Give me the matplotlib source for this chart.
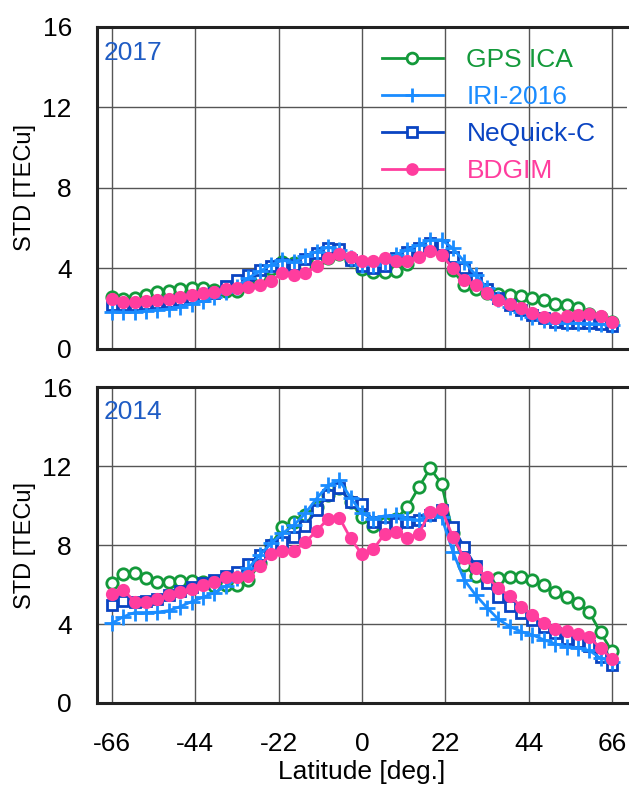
import numpy as np
import matplotlib
matplotlib.use("Agg")
import matplotlib.pyplot as plt

plt.rcParams['font.family'] = ['Liberation Sans', 'DejaVu Sans']
plt.rcParams['axes.unicode_minus'] = False

lat = np.arange(-66, 67, 3)

# 2017
gps_2017 = [2.6, 2.5, 2.55, 2.7, 2.85, 2.9, 3.0, 3.05, 3.05, 2.95, 2.9, 2.9,
            3.2, 3.6, 3.95, 4.3, 4.25, 4.1, 4.3, 4.5, 4.7, 4.4, 3.95, 3.8,
            3.8, 3.88, 4.2, 4.8, 5.1, 4.95, 3.9, 3.18, 2.98, 2.79, 2.74, 2.69,
            2.64, 2.54, 2.44, 2.24, 2.19, 2.05, 1.74, 1.61, 1.36]
iri_2017 = [1.86, 1.83, 1.83, 1.89, 1.94, 1.99, 2.1, 2.24, 2.39, 2.6, 2.85, 3.1,
            3.53, 3.85, 4.18, 4.4, 4.3, 4.6, 4.84, 5.05, 4.93, 4.5, 4.18, 4.18,
            4.34, 4.68, 4.93, 5.17, 5.42, 5.42, 5.0, 4.34, 3.68, 3.03, 2.49, 2.1,
            1.86, 1.61, 1.44, 1.31, 1.28, 1.28, 1.26, 1.24, 1.19]
neq_2017 = [2.19, 2.19, 2.19, 2.24, 2.3, 2.35, 2.44, 2.54, 2.65, 2.79, 3.15, 3.43,
            3.68, 3.93, 4.12, 4.22, 4.18, 4.48, 4.78, 5.0, 4.96, 4.43, 4.1, 4.0,
            4.1, 4.5, 4.84, 5.0, 5.25, 5.15, 4.59, 4.0, 3.5, 2.98, 2.54, 2.19,
            1.94, 1.69, 1.53, 1.36, 1.31, 1.31, 1.28, 1.24, 1.14]
bdg_2017 = [2.49, 2.32, 2.32, 2.39, 2.42, 2.49, 2.59, 2.69, 2.79, 2.85, 2.98, 3.05,
            3.1, 3.18, 3.4, 3.75, 3.68, 3.78, 4.1, 4.5, 4.7, 4.57, 4.38, 4.38,
            4.54, 4.38, 4.38, 4.59, 4.88, 4.69, 4.0, 3.43, 3.18, 2.79, 2.44, 2.24,
            2.04, 1.79, 1.61, 1.53, 1.66, 1.69, 1.72, 1.66, 1.36]

# 2014
gps_2014 = [6.09, 6.52, 6.58, 6.31, 6.11, 6.14, 6.16, 6.16, 6.11, 5.92, 5.95, 5.97,
            6.23, 7.07, 8.0, 8.92, 9.19, 9.5, 9.95, 10.52, 10.9, 10.18, 9.4, 8.95,
            9.12, 9.3, 9.93, 10.92, 11.88, 11.11, 8.6, 6.98, 6.43, 6.23, 6.31, 6.39,
            6.36, 6.23, 5.97, 5.64, 5.38, 5.05, 4.6, 3.57, 2.61]
iri_2014 = [4.04, 4.37, 4.58, 4.58, 4.6, 4.68, 4.88, 5.13, 5.35, 5.58, 5.92, 6.31,
            6.82, 7.49, 8.08, 8.59, 9.0, 9.6, 10.35, 11.02, 11.28, 10.4, 9.6, 9.34,
            9.48, 9.51, 9.34, 9.26, 9.56, 9.42, 7.66, 6.23, 5.47, 4.83, 4.24, 3.87,
            3.62, 3.45, 3.2, 3.0, 2.86, 2.78, 2.66, 2.27, 2.1]
neq_2014 = [4.95, 5.17, 5.11, 5.17, 5.27, 5.45, 5.65, 5.86, 6.07, 6.23, 6.42, 6.65,
            7.02, 7.49, 8.0, 8.13, 8.41, 8.95, 9.76, 10.55, 10.9, 10.18, 10.06, 9.17,
            8.9, 9.1, 9.17, 9.26, 9.5, 9.76, 8.92, 7.88, 6.93, 6.09, 5.38, 4.91,
            4.54, 4.2, 3.84, 3.53, 3.23, 3.11, 2.89, 2.32, 1.94]
bdg_2014 = [5.5, 5.72, 5.13, 5.13, 5.27, 5.45, 5.6, 5.77, 5.96, 6.11, 6.36, 6.39,
            6.45, 6.95, 7.57, 7.71, 7.71, 8.13, 8.72, 9.31, 9.39, 8.33, 7.53, 7.78,
            8.58, 8.67, 8.36, 8.58, 9.68, 9.81, 8.41, 7.32, 6.82, 6.39, 5.81, 5.42,
            4.88, 4.46, 4.07, 3.75, 3.65, 3.5, 3.33, 2.78, 2.24]

names = ['GPS ICA', 'IRI-2016', 'NeQuick-C', 'BDGIM']
colors = ['#13993a', '#1a8cff', '#0a44c2', '#ff3d9e']
styles = [dict(marker='o', mfc='white', zorder=3),
          dict(marker='+', mfc='none', zorder=5, ms=11),
          dict(marker='s', mfc='white', zorder=4, ms=7.5),
          dict(marker='o', mfc=colors[3], zorder=6, ms=7.5)]

fig = plt.figure(figsize=(6.29, 7.86), dpi=100)
ax_top = fig.add_axes([0.154, 0.556, 0.843, 0.41])
ax_bot = fig.add_axes([0.154, 0.1056, 0.843, 0.402])

panels = [(ax_top, '2017', [gps_2017, iri_2017, neq_2017, bdg_2017]),
          (ax_bot, '2014', [gps_2014, iri_2014, neq_2014, bdg_2014])]

for ax, year, series in panels:
    for vals, name, c, st in zip(series, names, colors, styles):
        kw = dict(ms=8.2)
        kw.update(st)
        ax.plot(lat, vals, color=c, lw=2.0, mec=c, mew=2.0, label=name, **kw)
    ax.set_xlim(-70, 70)
    ax.set_ylim(0, 16)
    ax.set_xticks([-66, -44, -22, 0, 22, 44, 66])
    ax.set_yticks([0, 4, 8, 12, 16])
    ax.grid(True, color='#555555', lw=1.0)
    ax.set_axisbelow(True)
    ax.tick_params(length=0, labelsize=19)
    ax.tick_params(axis='y', pad=18)
    ax.tick_params(axis='x', pad=21)
    for side in ['left', 'bottom', 'top']:
        ax.spines[side].set_linewidth(2.2)
        ax.spines[side].set_color('#222222')
    ax.spines['right'].set_visible(False)
    ax.set_ylabel('STD [TECu]', fontsize=17, labelpad=5)
    ax.text(0.012, 0.92, year, transform=ax.transAxes, fontsize=19,
            color='#1f5cc4', va='center')

ax_top.tick_params(labelbottom=False)
ax_bot.set_xlabel('Latitude [deg.]', fontsize=19, labelpad=3)

leg = ax_top.legend(loc='upper right', bbox_to_anchor=(0.985, 1.008), frameon=False,
                    fontsize=19, handlelength=2.3, handletextpad=0.9,
                    labelspacing=0.5, markerscale=0.95)
for txt, c in zip(leg.get_texts(), colors):
    txt.set_color(c)

fig.savefig('out.png', dpi=100)
